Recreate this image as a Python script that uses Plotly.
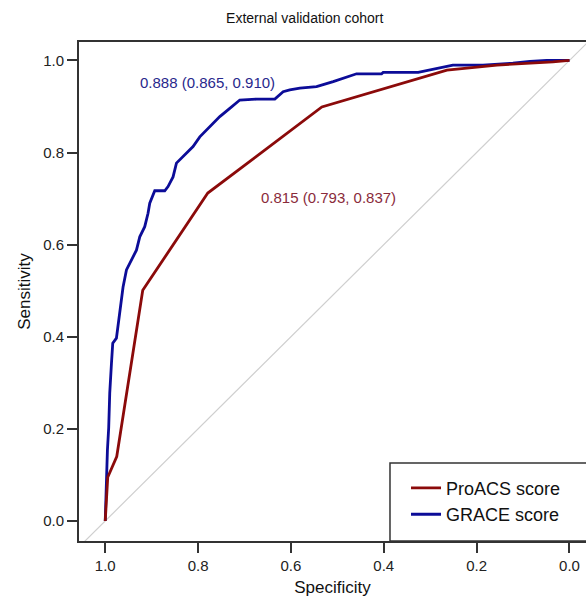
import plotly.graph_objects as go

# ---- data ----
series_names = ["ProACS score", "GRACE score"]
auc_labels = ["0.815 (0.793, 0.837)", "0.888 (0.865, 0.910)"]

proacs_spec = [1.0, 0.9946, 0.9752, 0.9192, 0.7791, 0.5334, 0.2640, 0.1562, 0.0356, 0.0]
proacs_sens = [0.0, 0.095, 0.140, 0.501, 0.712, 0.899, 0.979, 0.990, 0.997, 1.0]

grace_spec = [1.0, 0.9974, 0.9953, 0.9925, 0.9903, 0.9866, 0.9838, 0.9759, 0.9688, 0.9616,
              0.9543, 0.9435, 0.9328, 0.9256, 0.9149, 0.9078, 0.9041, 0.8933, 0.8718, 0.8647,
              0.8539, 0.8466, 0.8323, 0.8108, 0.7963, 0.7748, 0.7532, 0.7317, 0.7101, 0.6741,
              0.6347, 0.6168, 0.6024, 0.5808, 0.5448, 0.5090, 0.4586, 0.4047, 0.4013, 0.3259,
              0.2935, 0.2511, 0.1864, 0.1218, 0.0851, 0.0491, 0.0]
grace_sens = [0.0, 0.095, 0.153, 0.203, 0.277, 0.342, 0.386, 0.397, 0.458, 0.508,
              0.545, 0.566, 0.588, 0.617, 0.639, 0.668, 0.690, 0.717, 0.717, 0.726,
              0.747, 0.777, 0.791, 0.813, 0.834, 0.856, 0.878, 0.896, 0.914, 0.916,
              0.916, 0.932, 0.936, 0.940, 0.943, 0.954, 0.971, 0.971, 0.974, 0.974,
              0.981, 0.990, 0.990, 0.994, 0.998, 1.0, 1.0]

ref_spec = [1.2, -0.2]
ref_sens = [-0.2, 1.2]

tick_vals = [0.0, 0.2, 0.4, 0.6, 0.8, 1.0]
tick_text = ["0.0", "0.2", "0.4", "0.6", "0.8", "1.0"]

# ---- styles ----
RED = "#8b0a0a"
BLUE = "#0c0c98"
RED_TXT = "#8a2b3b"
BLUE_TXT = "#28288c"
AXIS = "#333333"
FONT = "Liberation Sans, Arial, Helvetica, sans-serif"

fig = go.Figure()

fig.add_trace(go.Scatter(x=ref_spec, y=ref_sens, mode="lines",
                         line=dict(color="#cfcfcf", width=1.2),
                         showlegend=False, hoverinfo="skip"))
fig.add_trace(go.Scatter(x=grace_spec, y=grace_sens, mode="lines",
                         line=dict(color=BLUE, width=2.8),
                         name=series_names[1], showlegend=False))
fig.add_trace(go.Scatter(x=proacs_spec, y=proacs_sens, mode="lines",
                         line=dict(color=RED, width=2.8),
                         name=series_names[0]))
# legend entry for GRACE (second row)
fig.add_trace(go.Scatter(x=[None], y=[None], mode="lines",
                         line=dict(color=BLUE, width=2.8),
                         name=series_names[1]))

fig.add_annotation(x=0.7802, y=0.952, text=auc_labels[1], showarrow=False,
                   font=dict(family=FONT, size=15, color=BLUE_TXT),
                   xanchor="center", yanchor="middle")
fig.add_annotation(x=0.5198, y=0.7015, text=auc_labels[0], showarrow=False,
                   font=dict(family=FONT, size=15, color=RED_TXT),
                   xanchor="center", yanchor="middle")

# legend frame (extends beyond the visible right edge as in the reference)
fig.add_shape(type="rect", xref="paper", yref="paper",
              x0=0.6134, x1=1.05, y0=0.0, y1=0.1563,
              line=dict(color=AXIS, width=1.5), fillcolor="rgba(0,0,0,0)", layer="above")

fig.update_layout(
    width=586, height=598,
    margin=dict(l=79, r=0, t=42, b=57),
    paper_bgcolor="white", plot_bgcolor="white",
    font=dict(family=FONT, size=15, color="#222222"),
    title=dict(text="External validation cohort", x=0.52, xref="container",
               xanchor="center", y=1 - 18 / 598, yref="container", yanchor="middle",
               font=dict(family=FONT, size=14, color="#111111")),
    showlegend=True,
    legend=dict(x=0.645, y=0.143, xanchor="left", yanchor="top",
                bgcolor="rgba(0,0,0,0)", borderwidth=0,
                font=dict(family=FONT, size=18, color="#111111"),
                tracegroupgap=0),
    xaxis=dict(range=[1.0565, -0.0356], tickvals=tick_vals, ticktext=tick_text,
               showgrid=False, zeroline=False, showline=True, linecolor=AXIS,
               linewidth=2, mirror=True, ticks="outside", ticklen=10, tickwidth=2,
               tickcolor=AXIS, tickfont=dict(size=15, color="#222222"),
               title=dict(text="Specificity", font=dict(size=17, color="#111111"), standoff=8)),
    yaxis=dict(range=[-0.0435, 1.04], tickvals=tick_vals, ticktext=tick_text,
               showgrid=False, zeroline=False, showline=True, linecolor=AXIS,
               linewidth=2, mirror=False, ticks="outside", ticklen=10, tickwidth=2,
               tickcolor=AXIS, tickfont=dict(size=15, color="#222222"),
               title=dict(text="Sensitivity", font=dict(size=17, color="#111111"), standoff=8)),
)

fig.write_html("out.html", config={"displayModeBar": False},
               post_script="document.body.style.margin='0px';document.body.style.overflow='hidden';")
